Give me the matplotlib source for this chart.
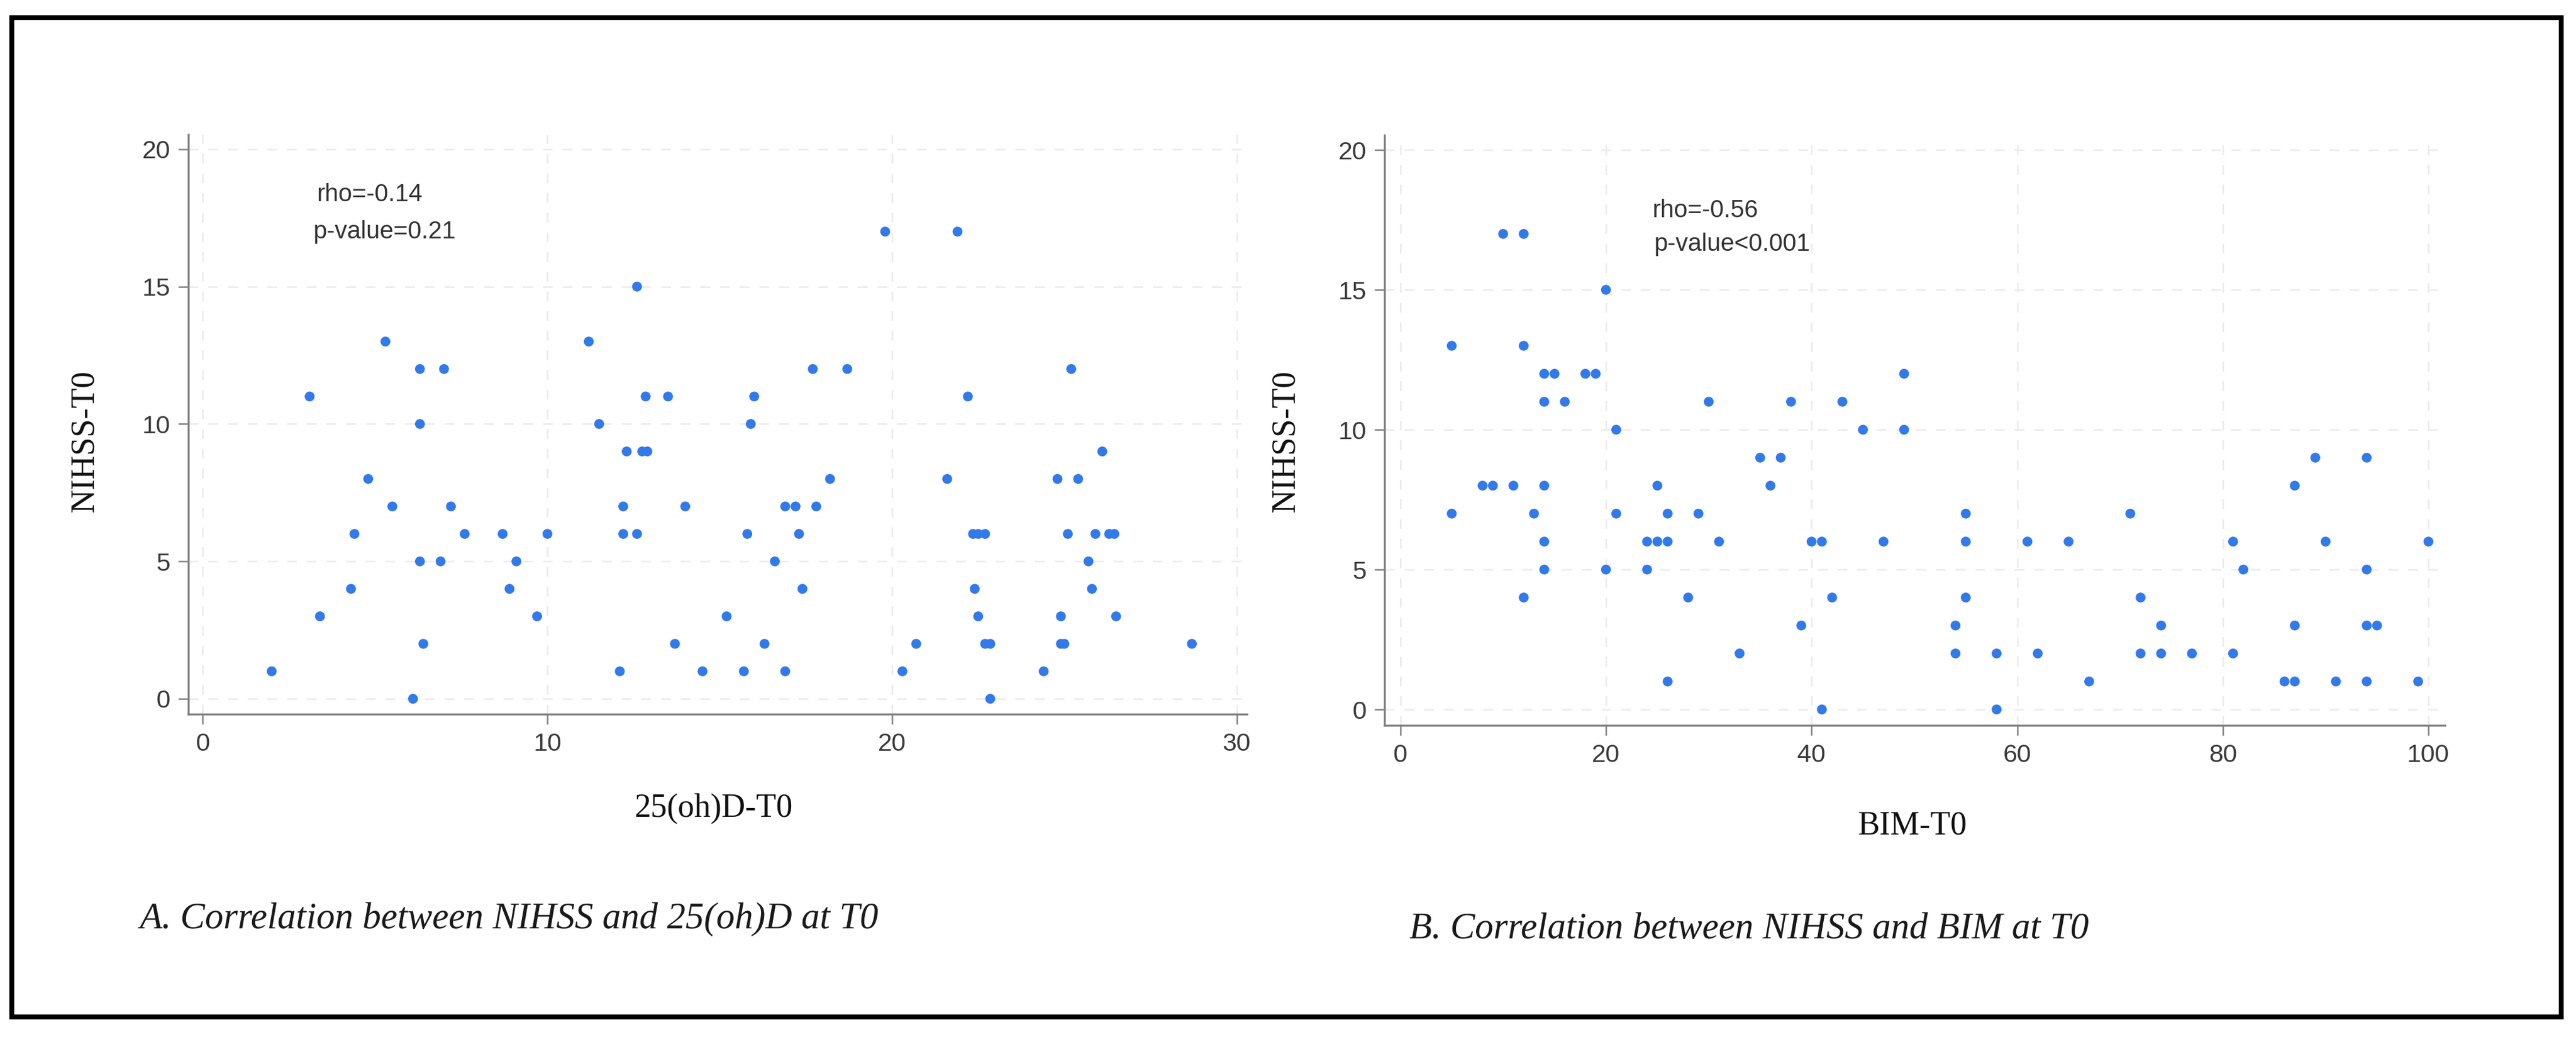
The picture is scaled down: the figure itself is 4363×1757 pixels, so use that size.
import numpy as np
import matplotlib.pyplot as plt
from matplotlib.patches import Rectangle

# --- データ ---
# A: NIHSS-T0 vs 25(oh)D-T0
vitd_x = [2.0, 3.1, 3.4, 4.3, 4.4, 4.8, 5.3, 5.5, 6.1, 6.3, 6.3, 6.3, 6.4, 6.9, 7.0, 7.2,
          7.6, 8.7, 8.9, 9.1, 9.7, 10.0, 11.2, 11.5, 12.1, 12.2, 12.2, 12.3, 12.6, 12.6,
          12.75, 12.9, 12.85, 13.5, 13.7, 14.0, 14.5, 15.2, 15.7, 15.8, 15.9, 16.0, 16.3,
          16.6, 16.9, 16.9, 17.2, 17.3, 17.4, 17.7, 17.8, 18.2, 18.7, 19.8, 20.3, 20.7,
          21.6, 21.9, 22.2, 22.35, 22.5, 22.7, 22.4, 22.5, 22.7, 22.85, 22.85, 24.4, 24.8,
          24.9, 24.9, 25.0, 25.1, 25.2, 25.4, 25.7, 25.8, 25.9, 26.1, 26.3, 26.45, 26.5, 28.7]
vitd_nihss = [1, 11, 3, 4, 6, 8, 13, 7, 0, 12, 10, 5, 2, 5, 12, 7,
              6, 6, 4, 5, 3, 6, 13, 10, 1, 7, 6, 9, 15, 6,
              9, 9, 11, 11, 2, 7, 1, 3, 1, 6, 10, 11, 2,
              5, 7, 1, 7, 6, 4, 12, 7, 8, 12, 17, 1, 2,
              8, 17, 11, 6, 6, 6, 4, 3, 2, 2, 0, 1, 8,
              3, 2, 2, 6, 12, 8, 5, 4, 6, 9, 6, 6, 3, 2]

# B: NIHSS-T0 vs BIM-T0
bim_x = [5, 5, 8, 9, 10, 11, 12, 12, 12, 13, 14, 15, 14, 14, 14, 14, 16, 18, 19, 20,
         20, 21, 21, 24, 24, 25, 25, 26, 26, 26, 28, 29, 30, 31, 33, 35, 36, 37, 38, 39,
         40, 41, 41, 42, 43, 45, 47, 49, 49, 54, 54, 55, 55, 55, 58, 58, 61, 62, 65, 67,
         71, 72, 72, 74, 74, 77, 81, 81, 82, 86, 87, 87, 87, 89, 90, 91, 94, 94, 94, 95,
         94, 99, 100]
bim_nihss = [13, 7, 8, 8, 17, 8, 17, 13, 4, 7, 12, 12, 11, 8, 6, 5, 11, 12, 12, 15,
             5, 10, 7, 6, 5, 8, 6, 7, 6, 1, 4, 7, 11, 6, 2, 9, 8, 9, 11, 3,
             6, 6, 0, 4, 11, 10, 6, 12, 10, 3, 2, 7, 6, 4, 2, 0, 6, 2, 6, 1,
             7, 4, 2, 3, 2, 2, 6, 2, 5, 1, 8, 3, 1, 9, 6, 1, 9, 5, 3, 3,
             1, 1, 6]

panels = [
    dict(x=vitd_x, y=vitd_nihss, xlabel='25(oh)D-T0', xticks=[0, 10, 20, 30],
         xlim=(-0.42, 30.3), ylim=(-0.56, 20.53),
         stats=['rho=-0.14', 'p-value=0.21'], stat_pos=[(3.3, 18.1), (3.2, 16.75)],
         rect=[0.0731, 0.3113, 0.4110, 0.5589],
         ylab_pos=(-0.083, 0.471), xlab_pos=(0.496, -0.136),
         caption='A. Correlation between NIHSS and 25(oh)D at T0', cap_pos=(0.0541, 0.1047)),
    dict(x=bim_x, y=bim_nihss, xlabel='BIM-T0', xticks=[0, 20, 40, 60, 80, 100],
         xlim=(-1.53, 101.6), ylim=(-0.57, 20.52),
         stats=['rho=-0.56', 'p-value<0.001'], stat_pos=[(24.5, 17.6), (24.7, 16.4)],
         rect=[0.5375, 0.3005, 0.4116, 0.5689],
         ylab_pos=(-0.0785, 0.482), xlab_pos=(0.498, -0.145),
         caption='B. Correlation between NIHSS and BIM at T0', cap_pos=(0.5471, 0.095)),
]

fig = plt.figure(figsize=(43.63, 17.57), dpi=100)
fig.patch.set_facecolor('white')

for p in panels:
    ax = fig.add_axes(p['rect'])
    ax.scatter(p['x'], p['y'], s=145, color='#3279ea', edgecolors='none', zorder=3)

    ax.set_xlim(*p['xlim'])
    ax.set_ylim(*p['ylim'])
    ax.set_xticks(p['xticks'])
    ax.set_yticks([0, 5, 10, 15, 20])

    # Stata風の薄い破線グリッド
    ax.grid(True, color='#ececec', linestyle=(0, (6, 6)), linewidth=2, zorder=0)

    for side in ['top', 'right']:
        ax.spines[side].set_visible(False)
    for side in ['left', 'bottom']:
        ax.spines[side].set_color('#808080')
        ax.spines[side].set_linewidth(2.5)

    ax.tick_params(axis='both', direction='out', length=12, width=1.8, color='#808080',
                   labelsize=31, labelcolor='#3a3a3a', pad=10)
    for lab in ax.get_xticklabels() + ax.get_yticklabels():
        lab.set_family('Liberation Sans')

    ax.set_ylabel('NIHSS-T0', fontsize=40, family='Liberation Serif', color='#111111')
    ax.yaxis.set_label_coords(*p['ylab_pos'])
    ax.set_xlabel(p['xlabel'], fontsize=40, family='Liberation Serif', color='#111111')
    ax.xaxis.set_label_coords(*p['xlab_pos'])

    for txt, (tx, ty) in zip(p['stats'], p['stat_pos']):
        ax.text(tx, ty, txt, fontsize=30, family='Liberation Sans', color='#333333',
                ha='left', va='baseline')

    fig.text(p['cap_pos'][0], p['cap_pos'][1], p['caption'], fontsize=45,
             family='Liberation Serif', style='italic', color='#1a1a1a',
             ha='left', va='baseline')

# 外枠
fig.patches.append(Rectangle((0.0046, 0.0194), 0.9897, 0.9636, transform=fig.transFigure,
                             fill=False, edgecolor='black', linewidth=6))

fig.savefig('out.png', dpi=100, facecolor='white')
plt.close(fig)
